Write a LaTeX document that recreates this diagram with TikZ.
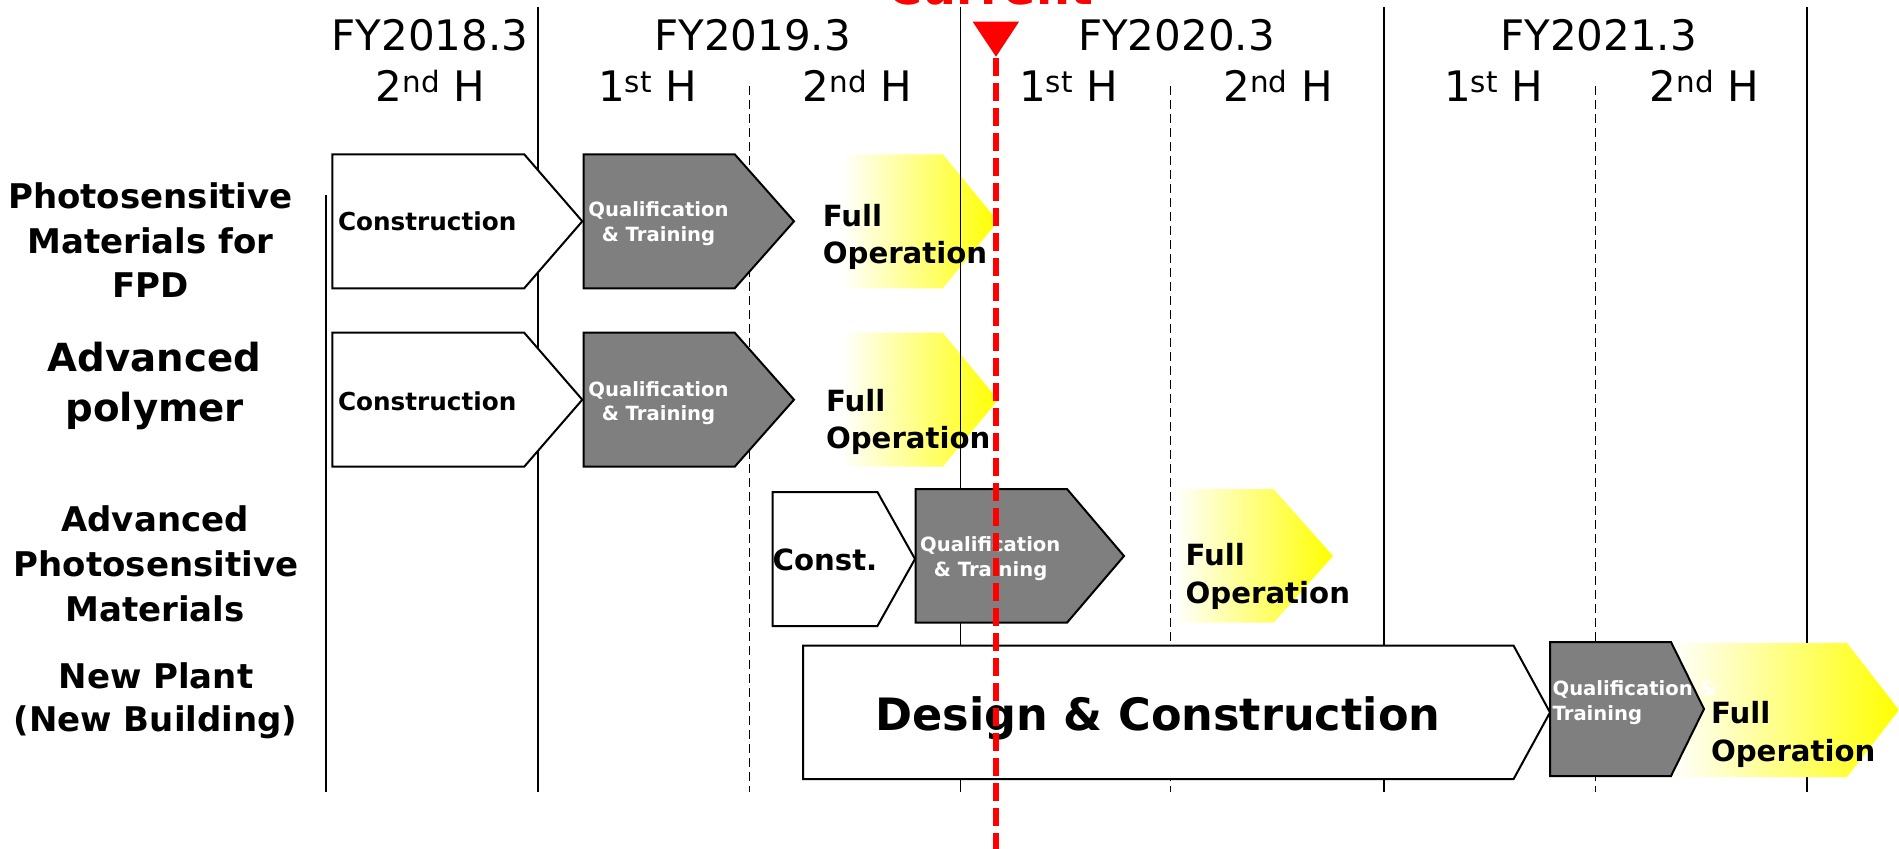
\documentclass[tikz,border=0pt]{standalone}
\usepackage{fontspec}
\setmainfont{DejaVu Sans}
\definecolor{boxgray}{HTML}{7F7F7F}
\newcommand\fsz[1]{\fontsize{#1}{#1}\selectfont}
\begin{document}
\begin{tikzpicture}[x=1pt,y=-1pt,
  gridsolid/.style={line width=1.6pt},
  griddash/.style={line width=1.3pt, dash pattern=on 9pt off 5pt},
  wbox/.style={draw=black, line width=2pt, fill=white},
  gbox/.style={draw=black, line width=2pt, fill=boxgray},
  fop/.style={left color=white, right color=yellow},
  txt/.style={inner sep=0pt, outer sep=0pt},
  hdr/.style={txt, anchor=base, font=\fsz{42}},
  rowlbl/.style={txt, anchor=base, font=\bfseries\fsz{34}},
  rowbig/.style={txt, anchor=base, font=\bfseries\fsz{38.7}},
  contxt/.style={txt, anchor=base west, font=\bfseries\fsz{24.7}},
  quatxt/.style={txt, anchor=base, text=white, font=\bfseries\fsz{19.6}},
  quatxtl/.style={txt, anchor=base west, text=white, font=\bfseries\fsz{19.6}},
  fultxt/.style={txt, anchor=base west, font=\bfseries\fsz{29.2}},
  curline/.style={draw=red, line width=5.5pt, dash pattern=on 18pt off 7pt}
]
\useasboundingbox (0,0) rectangle (1899,849);
\clip (0,0) rectangle (1899,849);

% grid
\draw[gridsolid] (325.8,195) -- (325.8,792);
\foreach \x in {537.7,960.5,1384,1807.2}{\draw[gridsolid] (\x,7) -- (\x,792);}
\foreach \x in {749.7,1170.8,1595.7}{\draw[griddash] (\x,86) -- (\x,792);}

% headers
\node[hdr] (fy18) at (430,50.7) {FY2018.3};
\node[hdr] (fy19) at (752.7,50.7) {FY2019.3};
\node[hdr] (fy20) at (1176.5,50.7) {FY2020.3};
\node[hdr] (fy21) at (1598.6,50.7) {FY2021.3};
\node[hdr] (h18b) at (430.5,101.7) {2\textsuperscript{nd} H};
\node[hdr] (h19a) at (647.5,101.7) {1\textsuperscript{st} H};
\node[hdr] (h19b) at (857.6,101.7) {2\textsuperscript{nd} H};
\node[hdr] (h20a) at (1068.5,101.7) {1\textsuperscript{st} H};
\node[hdr] (h20b) at (1278,101.7) {2\textsuperscript{nd} H};
\node[hdr] (h21a) at (1493.6,101.7) {1\textsuperscript{st} H};
\node[hdr] (h21b) at (1704.4,101.7) {2\textsuperscript{nd} H};

% row labels
\node[rowlbl] (r1a) at (150.5,208.3) {Photosensitive};
\node[rowlbl] (r1b) at (150.5,253.3) {Materials for};
\node[rowlbl] (r1c) at (150.5,297.7) {FPD};
\node[rowbig] (r2a) at (154.7,371.7) {Advanced};
\node[rowbig] (r2b) at (154.7,421.7) {polymer};
\node[rowlbl] (r3a) at (155,531.7) {Advanced};
\node[rowlbl] (r3b) at (156,576.7) {Photosensitive};
\node[rowlbl] (r3c) at (155,621.7) {Materials};
\node[rowlbl] (r4a) at (156,688) {New Plant};
\node[rowlbl] (r4b) at (155.6,731.7) {(New Building)};

% row 1
\draw[wbox] (332.3,154.3) -- (524.2,154.3) -- (582.3,221.3) -- (524.2,288.3) -- (332.3,288.3) -- cycle;
\draw[gbox] (583.6,154.3) -- (734.7,154.3) -- (794,221.3) -- (734.7,288.3) -- (583.6,288.3) -- cycle;
\shade[fop] (842,154.3) -- (942.7,154.3) -- (998,221.3) -- (942.7,288.3) -- (842,288.3) -- cycle;
% row 2
\draw[wbox] (332.3,332.7) -- (524.2,332.7) -- (582.3,399.7) -- (524.2,466.7) -- (332.3,466.7) -- cycle;
\draw[gbox] (583.6,332.7) -- (734.7,332.7) -- (794,399.7) -- (734.7,466.7) -- (583.6,466.7) -- cycle;
\shade[fop] (842,332.7) -- (942.7,332.7) -- (998,399.7) -- (942.7,466.7) -- (842,466.7) -- cycle;
% the FY2020.3 boundary shows through the yellow arrows of rows 1 and 2
\draw[gridsolid] (960.5,7) -- (960.5,792);
% row 3
\draw[wbox] (772.6,492) -- (877.4,492) -- (915,559) -- (877.4,626) -- (772.6,626) -- cycle;
\draw[gbox] (915.6,489) -- (1067,489) -- (1124,556) -- (1067,622.7) -- (915.6,622.7) -- cycle;
\shade[fop] (1174,489) -- (1273.5,489) -- (1333,556) -- (1273.5,622.7) -- (1174,622.7) -- cycle;
% row 4
\draw[wbox] (803,645.7) -- (1513.6,645.7) -- (1550,712.4) -- (1513.6,779) -- (803,779) -- cycle;
\shade[fop] (1671,643) -- (1847,643) -- (1899,710) -- (1847,777) -- (1671,777) -- cycle;
\draw[gbox] (1550,642) -- (1671,642) -- (1704,709) -- (1671,776) -- (1550,776) -- cycle;

% box texts
\node[contxt] (c1) at (338,230.7) {Construction};
\node[quatxt] (q1a) at (658.5,216.7) {Qualification};
\node[quatxt] (q1b) at (658.5,241.7) {\& Training};
\node[fultxt] (f1a) at (822.8,226) {Full};
\node[fultxt] (f1b) at (822.8,263.3) {Operation};

\node[contxt] (c2) at (338,410.7) {Construction};
\node[quatxt] (q2a) at (658.5,396.7) {Qualification};
\node[quatxt] (q2b) at (658.5,420) {\& Training};
\node[fultxt] (f2a) at (826,411.7) {Full};
\node[fultxt] (f2b) at (826,448.3) {Operation};

\node[fultxt] (c3) at (772.6,570.7) {Const.};
\node[quatxt] (q3a) at (990.3,551.7) {Qualification};
\node[quatxt] (q3b) at (990.6,576.7) {\& Training};
\node[fultxt] (f3a) at (1185.6,565) {Full};
\node[fultxt] (f3b) at (1185.6,603.3) {Operation};

\node[txt, anchor=base, font=\bfseries\fsz{44.6}] (dc) at (1158,730.7) {Design \& Construction};
\node[quatxtl] (q4a) at (1552.6,695) {Qualification \&};
\node[quatxtl] (q4b) at (1552.6,720) {Training};
\node[fultxt] (f4a) at (1711,723.3) {Full};
\node[fultxt] (f4b) at (1711,761.7) {Operation};

% current marker
\node[txt, anchor=base, text=red, font=\bfseries\fsz{47.7}] (cur) at (990.5,4) {Current};
\fill[red] (972.7,21.7) -- (1019,21.7) -- (996,56.7) -- cycle;
\coordinate (curtop) at (996,58);
\coordinate (curbot) at (996,849);
\draw[curline] (curtop) -- (curbot);
\end{tikzpicture}
\end{document}
